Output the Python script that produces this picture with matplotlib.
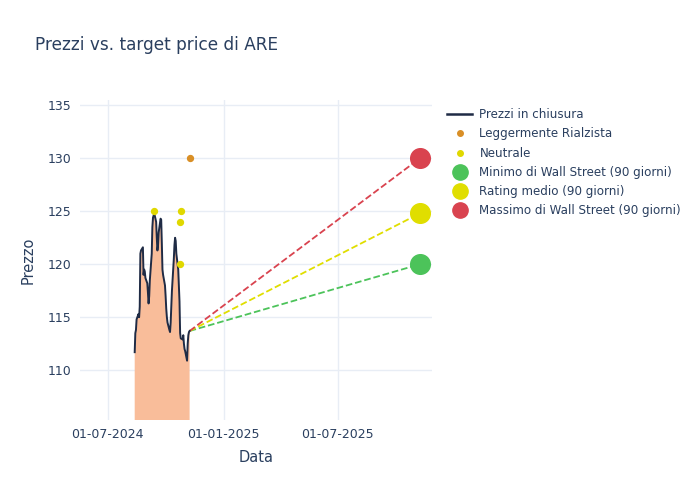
import matplotlib
matplotlib.use("Agg")
import matplotlib.pyplot as plt
import matplotlib.dates as mdates
from matplotlib.lines import Line2D
import pandas as pd

# closing prices, business days 13-08-2024 .. 08-11-2024
price_dates = pd.bdate_range("2024-08-13", "2024-11-08")
prices = [
    111.7, 113.5, 113.8, 114.8, 115.3, 115.0, 116.0, 121.0, 121.3,
    121.6, 119.0, 119.5, 119.3, 118.7,
    118.2, 117.3, 116.3, 117.0, 118.5,
    121.0, 123.5, 124.4, 124.6, 124.8,
    124.0, 122.5, 121.3, 121.8, 123.0,
    124.3, 124.2, 122.0, 119.5, 119.0,
    118.0,
    117.0, 115.8, 115.0, 114.5,
    113.8, 113.6, 114.5, 116.0, 117.5,
    120.5, 121.8, 122.5, 122.2, 121.0,
    119.5, 118.0, 116.5, 113.5, 113.0,
    112.9, 113.3, 112.5, 112.0,
    111.8,
    110.9, 112.5, 113.3, 113.6, 113.7,
]

bull_dates = pd.to_datetime(["2024-11-08"])
bull_vals = [130]
neutral_dates = pd.to_datetime(["2024-09-13", "2024-10-24", "2024-10-25", "2024-10-24"])
neutral_vals = [125, 124, 125, 120]

target_date = pd.Timestamp("2025-11-08")
target_min = 120.0
target_avg = 124.8
target_max = 130.0

txt = "#2a3f5f"
grid = "#e8edf5"

fig = plt.figure(figsize=(7, 5), dpi=100)
ax = fig.add_axes([0.114, 0.16, 0.503, 0.64])

ax.fill_between(price_dates, prices, 0, color="#f9bd9a", lw=0, zorder=1)
ax.plot(price_dates, prices, color="#1f2b45", lw=1.4, zorder=3, label="Prezzi in chiusura")

ax.scatter(bull_dates, bull_vals, s=18, color="#d98f26", zorder=4, label="Leggermente Rialzista")
ax.scatter(neutral_dates, neutral_vals, s=18, color="#e0d800", zorder=4, label="Neutrale")

last_d, last_p = price_dates[-1], prices[-1]
ax.plot([last_d, target_date], [last_p, target_min], ls="--", color="#4cc35a", lw=1.3, zorder=2)
ax.plot([last_d, target_date], [last_p, target_avg], ls="--", color="#e0de00", lw=1.3, zorder=2)
ax.plot([last_d, target_date], [last_p, target_max], ls="--", color="#d9434f", lw=1.3, zorder=2)
ax.scatter([target_date], [target_min], s=200, color="#4cc35a", zorder=5, label="Minimo di Wall Street (90 giorni)")
ax.scatter([target_date], [target_avg], s=200, color="#e0de00", zorder=5, label="Rating medio (90 giorni)")
ax.scatter([target_date], [target_max], s=200, color="#d9434f", zorder=5, label="Massimo di Wall Street (90 giorni)")

ax.set_xlim(pd.Timestamp("2024-05-18"), pd.Timestamp("2025-11-27"))
ax.set_ylim(105.3, 135.5)
ax.set_yticks([110, 115, 120, 125, 130, 135])
ax.set_xticks(pd.to_datetime(["2024-07-01", "2025-01-01", "2025-07-01"]))
ax.xaxis.set_major_formatter(mdates.DateFormatter("%d-%m-%Y"))

for s in ax.spines.values():
    s.set_visible(False)
ax.grid(True, color=grid, lw=1)
ax.set_axisbelow(True)
ax.tick_params(length=0, colors=txt, labelsize=9, pad=6)

ax.set_xlabel("Data", color=txt, fontsize=10.5, labelpad=6)
ax.set_ylabel("Prezzo", color=txt, fontsize=10.5, labelpad=9)
fig.text(0.05, 0.91, "Prezzi vs. target price di ARE", color=txt, fontsize=12.2, va="center")

handles = [
    Line2D([], [], color="#1f2b45", lw=1.8),
    Line2D([], [], ls="", marker="o", ms=4, color="#d98f26"),
    Line2D([], [], ls="", marker="o", ms=4, color="#e0d800"),
    Line2D([], [], ls="", marker="o", ms=11, color="#4cc35a"),
    Line2D([], [], ls="", marker="o", ms=11, color="#e0de00"),
    Line2D([], [], ls="", marker="o", ms=11, color="#d9434f"),
]
labels = ["Prezzi in chiusura", "Leggermente Rialzista", "Neutrale",
          "Minimo di Wall Street (90 giorni)", "Rating medio (90 giorni)",
          "Massimo di Wall Street (90 giorni)"]
leg = fig.legend(handles, labels, loc="upper left", bbox_to_anchor=(0.632, 0.793),
                 frameon=False, fontsize=8.6, labelspacing=0.52, handlelength=2.1,
                 handletextpad=0.6, borderaxespad=0)
for t in leg.get_texts():
    t.set_color(txt)

fig.savefig("out.png", dpi=100)
